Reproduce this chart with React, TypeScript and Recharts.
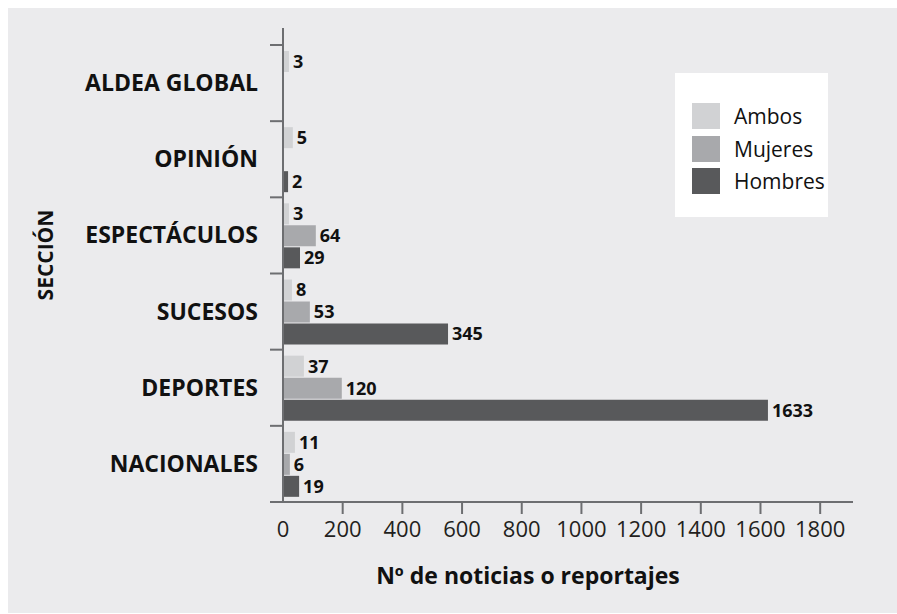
import React from 'react';
import { BarChart, Bar, XAxis, YAxis, Legend, LabelList } from 'recharts';

// ---- data ----
const CATEGORIES = ['ALDEA GLOBAL', 'OPINIÓN', 'ESPECTÁCULOS', 'SUCESOS', 'DEPORTES', 'NACIONALES'];
// bar lengths as drawn in the picture (x-axis units)
const AMBOS = [20, 33, 20, 30, 70, 40];
const MUJERES = [null, null, 110, 90, 197, 23];
const HOMBRES = [null, 17, 57, 553, 1625, 54];
// printed value labels
const AMBOS_LABELS = ['3', '5', '3', '8', '37', '11'];
const MUJERES_LABELS = [null, null, '64', '53', '120', '6'];
const HOMBRES_LABELS = [null, '2', '29', '345', '1633', '19'];
const X_TICKS = [0, 200, 400, 600, 800, 1000, 1200, 1400, 1600, 1800];
const X_DOMAIN = [0, 1910];
const SERIES_NAMES = ['Ambos', 'Mujeres', 'Hombres'];
const SERIES_COLORS = ['#d1d2d4', '#a8a9ac', '#58595b'];
const X_TITLE = 'Nº de noticias o reportajes';
const Y_TITLE = 'SECCIÓN';

const data = CATEGORIES.map((c, i) => ({
  seccion: c,
  ambos: AMBOS[i],
  mujeres: MUJERES[i],
  hombres: HOMBRES[i],
  ambosLabel: AMBOS_LABELS[i],
  mujeresLabel: MUJERES_LABELS[i],
  hombresLabel: HOMBRES_LABELS[i],
}));

// ---- layout ----
const W = 889;
const H = 605;
const MARGIN = { top: 20, right: 44, bottom: 21, left: 0 };
const Y_AXIS_W = 275;
const X_AXIS_H = 90;
const PAD_TOP = 17;
const PLOT_H = H - MARGIN.top - MARGIN.bottom - X_AXIS_H;
const BAND = (PLOT_H - PAD_TOP) / CATEGORIES.length;
const FONT = '"Open Sans", "Noto Sans", sans-serif';
const AXIS = '#6d6e71';
const TEXT = '#111111';

function YTick(props: any) {
  const { x, y, payload } = props;
  const first = payload.value === CATEGORIES[0];
  return (
    <g>
      <line x1={x - 13} x2={x} y1={y + BAND / 2} y2={y + BAND / 2} stroke={AXIS} strokeWidth={2} />
      {first && <line x1={x - 13} x2={x} y1={y - BAND / 2} y2={y - BAND / 2} stroke={AXIS} strokeWidth={2} />}
      <text x={x - 25} y={y + 8} textAnchor="end" fontFamily={FONT} fontWeight={700} fontSize={23} fill={TEXT}>
        {payload.value}
      </text>
    </g>
  );
}

function XTick(props: any) {
  const { x, y, payload } = props;
  return (
    <g>
      {payload.value !== 0 && <line x1={x} x2={x} y1={y} y2={y + 12} stroke={AXIS} strokeWidth={2} />}
      <text x={x} y={y + 35} textAnchor="middle" fontFamily={FONT} fontSize={22} fill="#231f20">
        {payload.value}
      </text>
    </g>
  );
}

function YTitle(props: any) {
  const vb = props.viewBox || { x: 0, y: MARGIN.top, width: Y_AXIS_W, height: PLOT_H };
  const cx = vb.x + 37;
  const cy = vb.y + vb.height / 2 - 10;
  return (
    <text
      x={cx}
      y={cy}
      transform={`rotate(-90, ${cx}, ${cy})`}
      textAnchor="middle"
      dominantBaseline="central"
      fontFamily={FONT}
      fontWeight={700}
      fontSize={21}
      fill={TEXT}
    >
      {Y_TITLE}
    </text>
  );
}

function XTitle(props: any) {
  const vb = props.viewBox || { x: Y_AXIS_W, y: H - MARGIN.bottom - X_AXIS_H, width: 570, height: X_AXIS_H };
  return (
    <text
      x={vb.x + vb.width / 2 - 40}
      y={vb.y + 82}
      textAnchor="middle"
      fontFamily={FONT}
      fontWeight={700}
      fontSize={23}
      fill={TEXT}
    >
      {X_TITLE}
    </text>
  );
}

function LegendBox(props: any) {
  const payload = [...(props.payload || [])].sort(
    (a: any, b: any) => SERIES_NAMES.indexOf(a.value) - SERIES_NAMES.indexOf(b.value)
  );
  return (
    <div style={{ width: 153, height: 144, background: '#ffffff', position: 'relative' }}>
      {payload.map((p: any, i: number) => (
        <div key={p.value} style={{ position: 'absolute', left: 17, top: 30 + i * 32.5, height: 26, display: 'flex', alignItems: 'center' }}>
          <div style={{ width: 28, height: 26, background: p.color }} />
          <span style={{ marginLeft: 14, fontFamily: FONT, fontSize: 21, color: TEXT, lineHeight: '26px' }}>{p.value}</span>
        </div>
      ))}
    </div>
  );
}

const labelProps = {
  position: 'right' as const,
  offset: 4,
  fill: TEXT,
  fontSize: 18,
  fontWeight: 700,
  fontFamily: FONT,
};

export default function App() {
  return (
    <div style={{ position: 'absolute', left: 8, top: 8, width: W, height: H, background: '#ebebed' }}>
      <BarChart
        width={W}
        height={H}
        data={data}
        layout="vertical"
        margin={MARGIN}
        barSize={21}
        barGap={1}
      >
        <XAxis
          type="number"
          domain={X_DOMAIN}
          ticks={X_TICKS}
          interval={0}
          height={X_AXIS_H}
          axisLine={{ stroke: AXIS, strokeWidth: 2 }}
          tickLine={false}
          tickSize={0}
          tickMargin={0}
          tick={<XTick />}
          allowDataOverflow
          label={XTitle}
        />
        <YAxis
          type="category"
          dataKey="seccion"
          width={Y_AXIS_W}
          padding={{ top: PAD_TOP, bottom: 0 }}
          axisLine={{ stroke: AXIS, strokeWidth: 2 }}
          tickLine={false}
          tickSize={0}
          tickMargin={0}
          interval={0}
          tick={<YTick />}
          label={YTitle}
        />
        <Legend
          layout="vertical"
          align="center"
          verticalAlign="middle"
          content={<LegendBox />}
          wrapperStyle={{ left: 667, top: 65, width: 153, height: 144 }}
        />
        <Bar dataKey="ambos" name={SERIES_NAMES[0]} fill={SERIES_COLORS[0]} isAnimationActive={false}>
          <LabelList dataKey="ambosLabel" {...labelProps} />
        </Bar>
        <Bar dataKey="mujeres" name={SERIES_NAMES[1]} fill={SERIES_COLORS[1]} isAnimationActive={false}>
          <LabelList dataKey="mujeresLabel" {...labelProps} />
        </Bar>
        <Bar dataKey="hombres" name={SERIES_NAMES[2]} fill={SERIES_COLORS[2]} isAnimationActive={false}>
          <LabelList dataKey="hombresLabel" {...labelProps} />
        </Bar>
      </BarChart>
    </div>
  );
}
